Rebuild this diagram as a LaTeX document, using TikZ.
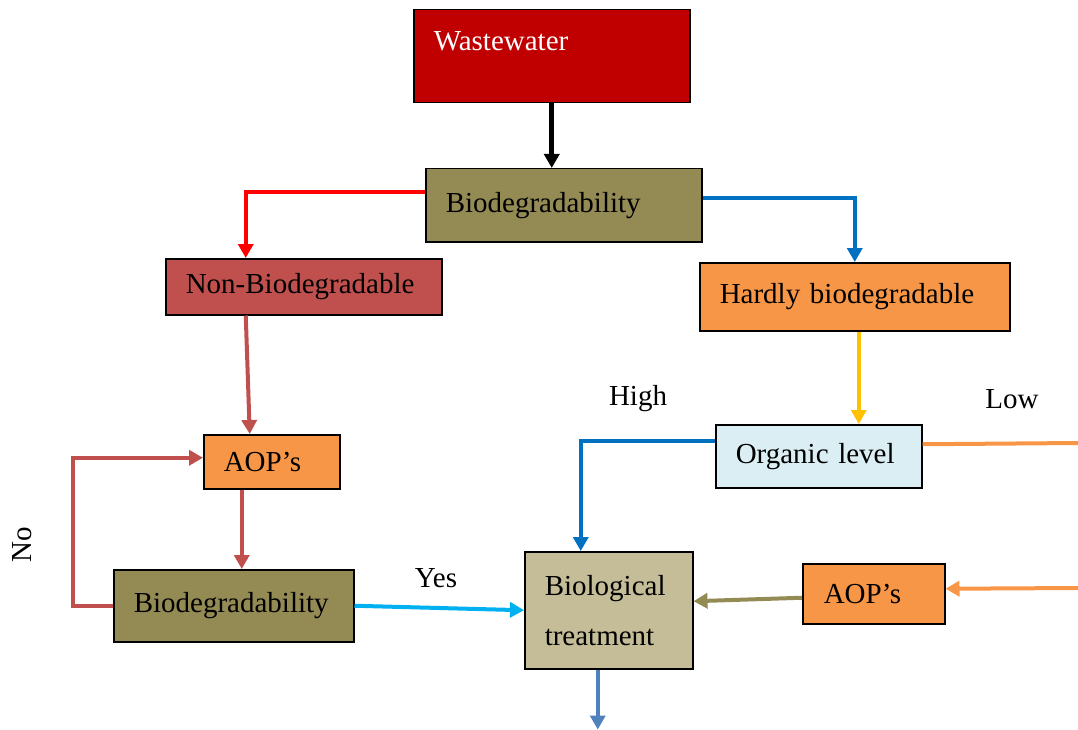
\documentclass[tikz,border=0pt]{standalone}
\usepackage{fontspec}
\setmainfont{Liberation Serif}
\usetikzlibrary{arrows.meta}
\definecolor{wwred}{HTML}{C00000}
\definecolor{olivebox}{HTML}{948A54}
\definecolor{rosebox}{HTML}{C0504D}
\definecolor{orangebox}{HTML}{F79646}
\definecolor{icebox}{HTML}{DAEEF3}
\definecolor{tanbox}{HTML}{C4BD97}
\definecolor{redline}{HTML}{FF0000}
\definecolor{blueline}{HTML}{0070C0}
\definecolor{yellowline}{HTML}{FFC000}
\definecolor{cyanline}{HTML}{00B0F0}
\definecolor{steelline}{HTML}{4F81BD}
\begin{document}
\begin{tikzpicture}[x=1pt,y=-1pt,
  flowbox/.style={draw=black,line width=1.5pt,anchor=north west,align=left,
    inner xsep=20pt,inner ysep=0pt,font=\fontsize{29}{50}\selectfont},
  flowline/.style={line width=4pt,-{Triangle[width=15pt,length=14pt]}},
  flowtext/.style={font=\fontsize{29}{34}\selectfont}]
  \useasboundingbox (0,0) rectangle (1078,730);
  \node[flowbox,fill=wwred,text=white,text width=236pt,text height=31pt,text depth=42pt,inner ysep=10pt] (ww) at (413,9) {Wastewater};
  \node[flowbox,fill=olivebox,text width=236pt,minimum height=73pt] (bio1) at (425,168) {Biodegradability};
  \node[flowbox,fill=rosebox,text width=236pt,minimum height=56pt] (nonbio) at (165,258) {Non-Biodegradable};
  \node[flowbox,fill=orangebox,text width=270pt,minimum height=68pt] (hardly) at (699,262) {Hardly biodegradable};
  \node[flowbox,fill=icebox,text width=166pt,minimum height=63pt] (organic) at (715,424) {Organic level};
  \node[flowbox,fill=orangebox,text width=96pt,minimum height=54pt] (aop1) at (203,434) {AOP’s};
  \node[flowbox,fill=olivebox,text width=200pt,minimum height=72pt] (bio2) at (113,569) {Biodegradability};
  \node[flowbox,fill=tanbox,text width=128pt,minimum height=117pt] (biot) at (524,551) {Biological\\treatment};
  \node[flowbox,fill=orangebox,text width=100pt,minimum height=60pt,inner xsep=21pt] (aop2) at (802,563) {AOP’s};
  \node[flowtext] (high) at (638,399) {High};
  \node[flowtext] (low) at (1012,399) {Low};
  \node[flowtext] (yes) at (436,578) {Yes};
  \node[flowtext,rotate=90] (no) at (22,545) {No};
  \coordinate (lowend) at (1078,443);
  \coordinate (aopin) at (1078,588);
  \draw[flowline,line width=5pt,black] (ww.south) -- (ww.south |- bio1.north);
  \draw[flowline,redline] ([yshift=13pt]bio1.west) -| ([xshift=-58pt]nonbio.north);
  \draw[flowline,blueline] ([yshift=7pt]bio1.east) -| (hardly.north);
  \draw[flowline,rosebox] ([xshift=-58pt]nonbio.south) -- ([xshift=-22pt]aop1.north);
  \draw[flowline,yellowline] ([xshift=4pt]hardly.south) -- ([xshift=4pt]hardly.south |- organic.north);
  \draw[flowline,blueline] ([yshift=15pt]organic.west) -| ([xshift=-28pt]biot.north);
  \draw[line width=4pt,orangebox] ([yshift=12pt]organic.east) -- (lowend);
  \draw[flowline,rosebox] ([xshift=-30pt]aop1.south) -- ([xshift=-30pt]aop1.south |- bio2.north);
  \draw[flowline,rosebox] (bio2.west) -- ++(-40,0) |- ([yshift=4pt]aop1.west);
  \draw[flowline,cyanline] (bio2.east) -- (biot.west);
  \draw[flowline,olivebox] ([yshift=-4pt]aop2.west) -- ([yshift=9pt]biot.east);
  \draw[flowline,orangebox] (aopin) -- ([yshift=5pt]aop2.east);
  \draw[flowline,steelline] ([xshift=-11pt]biot.south) -- ++(0,60);
\end{tikzpicture}
\end{document}
